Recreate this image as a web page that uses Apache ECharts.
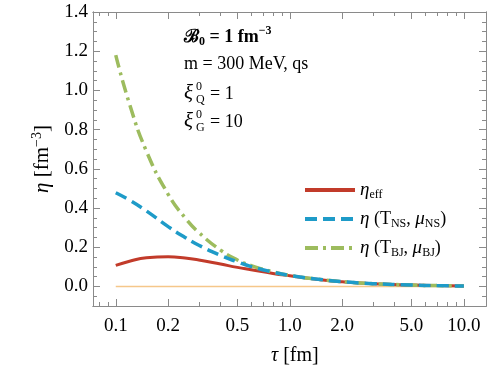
<!DOCTYPE html>
<html>
<head>
<meta charset="utf-8">
<script src="https://cdn.jsdelivr.net/npm/echarts@6/dist/echarts.min.js"></script>
<style>
html, body { margin: 0; background: #fff; }
#chart { width: 498px; height: 369px; }
</style>
</head>
<body>
<div id="chart"></div>
<script>
// tau in fm, eta in fm^-3
const tau    = [0.1, 0.12, 0.15, 0.2, 0.25, 0.3, 0.4, 0.5, 0.6, 0.8, 1.0, 1.5, 2.0, 3.0, 5.0, 7.0, 10.0];
const etaEff = [0.107, 0.128, 0.146, 0.151, 0.145, 0.135, 0.114, 0.097, 0.085, 0.066, 0.054, 0.034, 0.024, 0.014, 0.007, 0.004, 0.002];
const etaNS  = [0.478, 0.44, 0.385, 0.305, 0.25, 0.21, 0.158, 0.125, 0.101, 0.073, 0.056, 0.035, 0.024, 0.014, 0.007, 0.004, 0.002];
const etaBJ  = [1.18, 0.93, 0.69, 0.47, 0.35, 0.275, 0.185, 0.135, 0.106, 0.074, 0.056, 0.035, 0.024, 0.014, 0.007, 0.004, 0.002];
const zeroTau = [0.1, 10.0];
const zeroEta = [0, 0];

const xMajor = [0.1, 0.2, 0.5, 1.0, 2.0, 5.0, 10.0];
const xMinor = [0.08, 0.09, 0.3, 0.4, 0.6, 0.7, 0.8, 0.9, 3, 4, 6, 7, 8, 9];
const yMajor = [0, 0.2, 0.4, 0.6, 0.8, 1.0, 1.2, 1.4];
const yMinor = [-0.05, 0.05, 0.1, 0.15, 0.25, 0.3, 0.35, 0.45, 0.5, 0.55, 0.65, 0.7, 0.75,
                0.85, 0.9, 0.95, 1.05, 1.1, 1.15, 1.25, 1.3, 1.35];

const serif = "'Liberation Serif', 'DejaVu Serif', serif";
const frameColor = '#8a8a8a';
const lg = v => Math.log10(v);
const pairs = (xs, ys) => xs.map((x, i) => [lg(x), ys[i]]);
const xMin = lg(0.074), xMax = lg(13.4);

const chart = echarts.init(document.getElementById('chart'));

// one axis per side and tick size; only the bottom/left major axes get labels
function xFrame(pos, ticks, len, withLabels) {
    return {
        type: 'value', position: pos, min: xMin, max: xMax,
        axisLine: { show: true, onZero: false, lineStyle: { color: frameColor, width: 1 } },
        axisTick: { show: true, inside: true, length: len, customValues: ticks.map(lg),
                    lineStyle: { color: frameColor } },
        axisLabel: withLabels ? {
            customValues: ticks.map(lg), margin: 11, color: '#000',
            fontFamily: serif, fontSize: 19,
            formatter: v => Math.pow(10, v).toFixed(1)
        } : { show: false },
        splitLine: { show: false }
    };
}
function yFrame(pos, ticks, len, withLabels) {
    return {
        type: 'value', position: pos, min: -0.1, max: 1.4,
        axisLine: { show: true, onZero: false, lineStyle: { color: frameColor, width: 1 } },
        axisTick: { show: true, inside: true, length: len, customValues: ticks,
                    lineStyle: { color: frameColor } },
        axisLabel: withLabels ? {
            customValues: ticks, margin: 5, color: '#000',
            fontFamily: serif, fontSize: 19,
            formatter: v => v.toFixed(1)
        } : { show: false },
        splitLine: { show: false }
    };
}

const legendText = {
    eff: '{i|η}{sub|eff}',
    NS: '{i|η} {r|(T}{sub|NS}{r|, }{i|μ}{sub|NS}{r|)}',
    BJ: '{i|η} {r|(T}{sub|BJ}{r|, }{i|μ}{sub|BJ}{r|)}'
};

const xi = (y, sub, rhs) => ([
    { type: 'text', left: 184, top: y - 12, style: { text: 'ξ', font: 'italic 21px ' + serif, fill: '#000' } },
    { type: 'text', left: 196, top: y - 14, style: { text: '0', font: '12px ' + serif, fill: '#000' } },
    { type: 'text', left: 196, top: y - 1, style: { text: sub, font: '12px ' + serif, fill: '#000' } },
    { type: 'text', left: 210, top: y - 10, style: { text: rhs, font: '18px ' + serif, fill: '#000' } }
]);

chart.setOption({
    animation: false,
    backgroundColor: '#fff',
    textStyle: { fontFamily: serif },
    grid: { left: 93, right: 12, top: 12, bottom: 63, containLabel: false },
    xAxis: [
        xFrame('bottom', xMajor, 7, true),
        xFrame('bottom', xMinor, 4, false),
        xFrame('top', xMajor, 7, false),
        xFrame('top', xMinor, 4, false)
    ],
    yAxis: [
        Object.assign(yFrame('left', yMajor, 7, true), {
            name: '{i|η} [fm{sup|−3}]', nameLocation: 'middle', nameRotate: 90, nameGap: 36,
            nameTextStyle: {
                fontFamily: serif, fontSize: 21, color: '#000',
                rich: {
                    i: { fontFamily: serif, fontSize: 21, fontStyle: 'italic' },
                    sup: { fontFamily: serif, fontSize: 14, padding: [0, 0, 12, 0] }
                }
            }
        }),
        yFrame('left', yMinor, 4, false),
        yFrame('right', yMajor, 7, false),
        yFrame('right', yMinor, 4, false)
    ],
    legend: {
        orient: 'vertical', left: 298, top: 174, itemWidth: 50, itemHeight: 12, itemGap: 7,
        data: ['eff', 'NS', 'BJ'],
        itemStyle: { opacity: 0 },
        lineStyle: { width: 4 },
        formatter: name => legendText[name],
        textStyle: {
            fontFamily: serif, fontSize: 18, color: '#000', lineHeight: 22,
            rich: {
                i: { fontFamily: serif, fontSize: 19, fontStyle: 'italic', lineHeight: 22 },
                r: { fontFamily: serif, fontSize: 18, lineHeight: 22 },
                sub: { fontFamily: serif, fontSize: 12, padding: [9, 0, 0, 0] }
            }
        }
    },
    graphic: [
        { type: 'text', left: 184, top: 25, style: {
            text: '{b|ℬ}{s|0}{b| = 1 fm}{p|−3}', fill: '#000',
            rich: {
                b: { fontFamily: serif, fontSize: 18, fontWeight: 'bold' },
                s: { fontFamily: serif, fontSize: 12, fontWeight: 'bold', padding: [9, 0, 0, 0] },
                p: { fontFamily: serif, fontSize: 12, fontWeight: 'bold', padding: [0, 0, 12, 0] }
            }
        } },
        { type: 'text', left: 184, top: 55, style: { text: 'm = 300 MeV, qs', font: '18px ' + serif, fill: '#000' } },
        ...xi(95, 'Q', '= 1'),
        ...xi(123, 'G', '= 10'),
        { type: 'text', left: 271, top: 346, style: {
            text: '{i|τ} [fm]', fill: '#000',
            rich: { i: { fontFamily: serif, fontSize: 20, fontStyle: 'italic' } },
            font: '20px ' + serif
        } }
    ],
    series: [
        { name: 'zero', type: 'line', data: pairs(zeroTau, zeroEta), symbol: 'none',
          lineStyle: { color: '#f5c78a', width: 1.5 }, z: 1 },
        { name: 'eff', type: 'line', data: pairs(tau, etaEff), symbol: 'none', smooth: true,
          lineStyle: { color: '#c23b2a', width: 3 }, itemStyle: { color: '#c23b2a' }, z: 2 },
        { name: 'BJ', type: 'line', data: pairs(tau, etaBJ), symbol: 'none', smooth: true,
          lineStyle: { color: '#9dbc5e', width: 3.5, type: [13, 5, 3, 5] }, itemStyle: { color: '#9dbc5e' }, z: 3 },
        { name: 'NS', type: 'line', data: pairs(tau, etaNS), symbol: 'none', smooth: true,
          lineStyle: { color: '#1e9bc8', width: 3.5, type: [12, 6] }, itemStyle: { color: '#1e9bc8' }, z: 4 }
    ]
});
</script>
</body>
</html>
